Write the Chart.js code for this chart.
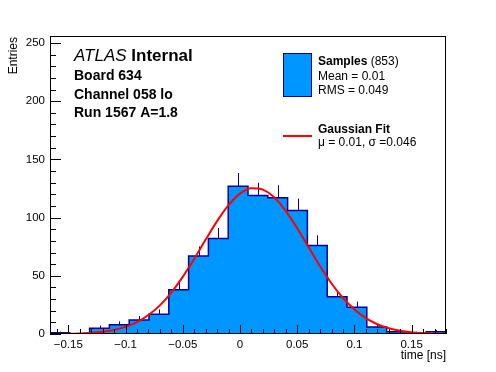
<!DOCTYPE html>
<html>
<head>
<meta charset="utf-8">
<script src="https://cdn.jsdelivr.net/npm/chart.js@4.4.1/dist/chart.umd.min.js"></script>
<style>
  html, body { margin: 0; padding: 0; background: #fff; }
</style>
</head>
<body>
<canvas id="timeHist" width="496" height="372"></canvas>
<script>
// histogram bins (left edges + last right edge), in ns
const binEdges = [-0.166, -0.1487, -0.1314, -0.1141, -0.0968, -0.0795, -0.0622, -0.0449, -0.0276, -0.0103,
                  0.0070, 0.0243, 0.0416, 0.0589, 0.0762, 0.0935, 0.1108, 0.1281, 0.1454, 0.1627, 0.1800];
const binCounts = [1, 0, 5, 8, 12, 17, 38, 67, 82, 127, 119, 117, 106, 76, 32, 23, 6, 2, 1, 2];

// gaussian fit curve
const fitX = [-0.166, -0.16, -0.15, -0.14, -0.13, -0.12, -0.11, -0.10, -0.09, -0.08, -0.07, -0.06, -0.05, -0.04,
              -0.03, -0.02, -0.01, 0.00, 0.01, 0.02, 0.03, 0.04, 0.05, 0.06, 0.07, 0.08, 0.09, 0.10, 0.11,
              0.12, 0.13, 0.14, 0.15, 0.16, 0.17, 0.18];
const fitY = [0.1, 0.1, 0.2, 0.5, 1.0, 1.9, 3.5, 6.1, 10.2, 16.3, 24.6, 35.6, 49.1, 64.6,
              81.1, 97.0, 110.7, 120.6, 125.2, 124.0, 117.2, 105.6, 90.9, 74.5, 58.2, 43.4, 30.9, 21.0, 13.6,
              8.4, 4.9, 2.8, 1.5, 0.8, 0.4, 0.2];

// axis ticks
const xTickVals = [-0.15, -0.1, -0.05, 0, 0.05, 0.1, 0.15];
const yTickVals = [0, 50, 100, 150, 200, 250];

// labels
const nEntries = 853;
const meanText = 'Mean = 0.01';
const rmsText = 'RMS = 0.049';
const fitText = 'μ = 0.01, σ =0.046';
const infoLines = ['Board 634', 'Channel 058 lo', 'Run 1567 A=1.8'];

const FONT = '"Liberation Sans", Arial, Helvetica, sans-serif';
const histFill = '#0096ff';
const histLine = '#000099';

Chart.defaults.font.family = FONT;
Chart.defaults.color = '#000';

function fmtTick(v) {
    if (v === 0) return '0';
    return (v < 0 ? '\u2212' : '') + Math.abs(v);
}

const rootStyle = {
    id: 'rootStyle',
    afterDatasetDraw(chart, args) {
        if (args.index !== 1) return;
        // error bars on top of histogram
        const ctx = chart.ctx, xs = chart.scales.x, ys = chart.scales.y;
        ctx.save();
        ctx.strokeStyle = histLine;
        ctx.lineWidth = 1;
        binCounts.forEach(function (c, i) {
            if (c <= 0) return;
            const px = Math.round(xs.getPixelForValue((binEdges[i] + binEdges[i + 1]) / 2)) + 0.5;
            ctx.beginPath();
            ctx.moveTo(px, ys.getPixelForValue(c));
            ctx.lineTo(px, ys.getPixelForValue(c + Math.sqrt(c)));
            ctx.stroke();
        });
        ctx.restore();
    },
    afterDraw(chart) {
        const ctx = chart.ctx, a = chart.chartArea;
        const xs = chart.scales.x, ys = chart.scales.y;
        ctx.save();
        // frame
        ctx.strokeStyle = '#000';
        ctx.lineWidth = 1;
        ctx.strokeRect(a.left + 0.5, a.top + 0.5, a.right - a.left - 1, a.bottom - a.top - 1);

        // y ticks (inward)
        ctx.beginPath();
        for (let v = 0; v <= 250; v += 10) {
            const py = Math.round(ys.getPixelForValue(v)) + 0.5;
            const len = (v % 50 === 0) ? 11 : 6;
            ctx.moveTo(a.left, py);
            ctx.lineTo(a.left + len, py);
        }
        // x ticks (inward)
        for (let k = -16; k <= 18; k++) {
            const px = Math.round(xs.getPixelForValue(k / 100)) + 0.5;
            const len = (k % 5 === 0) ? 9 : 5;
            ctx.moveTo(px, a.bottom);
            ctx.lineTo(px, a.bottom - len);
        }
        ctx.stroke();

        ctx.fillStyle = '#000';
        // axis titles
        ctx.font = '12px ' + FONT;
        ctx.textAlign = 'right';
        ctx.textBaseline = 'alphabetic';
        ctx.fillText('time [ns]', a.right, 359);
        ctx.save();
        ctx.translate(17, a.top + 1);
        ctx.rotate(-Math.PI / 2);
        ctx.fillText('Entries', 0, 0);
        ctx.restore();

        // ATLAS label
        ctx.textAlign = 'left';
        ctx.font = 'italic 17px ' + FONT;
        ctx.fillText('ATLAS', 74, 61);
        const w = ctx.measureText('ATLAS ').width;
        ctx.font = 'bold 17px ' + FONT;
        ctx.fillText('Internal', 74 + w, 61);
        ctx.font = 'bold 14px ' + FONT;
        ctx.fillText(infoLines[0], 74, 80);
        ctx.fillText(infoLines[1], 74, 98.5);
        ctx.fillText(infoLines[2], 74, 117);

        // legend
        ctx.fillStyle = histFill;
        ctx.fillRect(283.5, 53.5, 28, 43);
        ctx.strokeStyle = histLine;
        ctx.strokeRect(283.5, 53.5, 28, 43);
        ctx.fillStyle = '#000';
        ctx.font = 'bold 12px ' + FONT;
        ctx.fillText('Samples', 318, 65);
        const ws = ctx.measureText('Samples').width;
        ctx.font = '12px ' + FONT;
        ctx.fillText(' (' + nEntries + ')', 318 + ws, 65);
        ctx.fillText(meanText, 318, 79.5);
        ctx.fillText(rmsText, 318, 94);

        ctx.strokeStyle = '#ff0000';
        ctx.lineWidth = 2;
        ctx.beginPath();
        ctx.moveTo(283, 136);
        ctx.lineTo(312, 136);
        ctx.stroke();
        ctx.font = 'bold 12px ' + FONT;
        ctx.fillText('Gaussian Fit', 318, 133);
        ctx.font = '12px ' + FONT;
        ctx.fillText(fitText, 318, 146);
        ctx.restore();
    }
};

const histData = binEdges.map(function (x, i) {
    return { x: x, y: binCounts[Math.min(i, binCounts.length - 1)] };
});
const fitData = fitX.map(function (x, i) { return { x: x, y: fitY[i] }; });

const ctx = document.getElementById('timeHist').getContext('2d');
const myChart = new Chart(ctx, {
    type: 'line',
    data: {
        datasets: [{
            label: 'Gaussian Fit',
            data: fitData,
            borderColor: '#ff0000',
            borderWidth: 2,
            pointRadius: 0,
            fill: false,
            cubicInterpolationMode: 'monotone',
            order: 0
        }, {
            label: 'Samples',
            data: histData,
            stepped: true,
            borderColor: histLine,
            borderWidth: 1.5,
            backgroundColor: histFill,
            pointRadius: 0,
            fill: 'origin',
            order: 1
        }]
    },
    options: {
        responsive: false,
        devicePixelRatio: 1,
        animation: false,
        layout: { padding: { top: 36, right: 50, left: 0, bottom: 0 } },
        plugins: { legend: { display: false }, tooltip: { enabled: false } },
        scales: {
            x: {
                type: 'linear',
                min: -0.166,
                max: 0.18,
                grid: { display: false, drawTicks: false },
                border: { display: false },
                afterBuildTicks: function (s) { s.ticks = xTickVals.map(function (v) { return { value: v }; }); },
                afterFit: function (s) { s.height = 38; },
                ticks: { callback: fmtTick, padding: 4, maxRotation: 0, autoSkip: false, font: { size: 11.5 } }
            },
            y: {
                type: 'linear',
                min: 0,
                max: 256,
                grid: { display: false, drawTicks: false },
                border: { display: false },
                afterBuildTicks: function (s) { s.ticks = yTickVals.map(function (v) { return { value: v }; }); },
                afterFit: function (s) { s.width = 50; },
                ticks: { padding: 5, font: { size: 11.5 } }
            }
        }
    },
    plugins: [rootStyle]
});
</script>
</body>
</html>
